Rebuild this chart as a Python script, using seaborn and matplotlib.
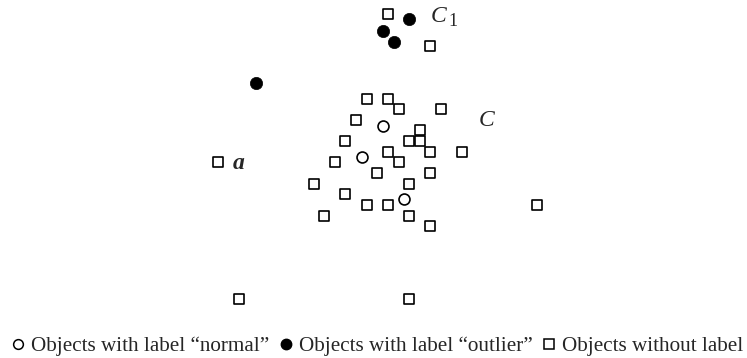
import matplotlib
matplotlib.use("Agg")
import matplotlib.pyplot as plt
from matplotlib.lines import Line2D
import seaborn as sns
import pandas as pd

# Point coordinates (horizontal position, vertical position measured downward)
unlabeled_x = [388.3, 430.0, 366.7, 388.3, 399.0, 440.7, 356.0, 420.0, 409.3, 420.0,
               345.0, 430.0, 462.3, 388.3, 399.0, 335.0, 218.3, 377.3, 430.0, 314.3,
               409.3, 345.0, 366.7, 388.3, 536.7, 324.3, 409.3, 430.0, 239.0, 409.0]
unlabeled_y = [14.0, 46.0, 99.3, 99.3, 109.3, 109.3, 120.0, 130.3, 141.0, 141.0,
               141.0, 151.7, 151.7, 151.7, 162.3, 162.3, 162.3, 172.7, 172.7, 184.0,
               184.0, 194.3, 205.0, 205.0, 205.0, 215.7, 215.7, 226.0, 299.0, 299.0]

normal_x = [382.7, 361.7, 404.0]
normal_y = [125.7, 157.3, 199.3]

outlier_x = [409.3, 382.7, 394.0, 255.7]
outlier_y = [19.3, 30.7, 41.7, 83.3]

legend_labels = ["Objects with label \u201cnormal\u201d",
                 "Objects with label \u201coutlier\u201d",
                 "Objects without label"]

sns.set_theme(style="white")
plt.rcParams["font.family"] = ["Liberation Serif", "DejaVu Serif"]

unl = pd.DataFrame({"x": unlabeled_x, "y": unlabeled_y})
nor = pd.DataFrame({"x": normal_x, "y": normal_y})
out = pd.DataFrame({"x": outlier_x, "y": outlier_y})

fig = plt.figure(figsize=(7.47, 3.58), dpi=100)
ax = fig.add_axes([0, 0, 1, 1])

sns.scatterplot(data=unl, x="x", y="y", marker="s", s=52, facecolor="white",
                edgecolor="black", linewidth=1.2, ax=ax, zorder=2)
sns.scatterplot(data=nor, x="x", y="y", marker="o", s=62, facecolor="white",
                edgecolor="black", linewidth=1.2, ax=ax, zorder=3)
sns.scatterplot(data=out, x="x", y="y", marker="o", s=78, color="black",
                edgecolor="black", linewidth=0.5, ax=ax, zorder=3)

ax.set_xlim(0, 747)
ax.set_ylim(358, 0)
ax.axis("off")

# Cluster and point annotations
ax.text(431, 22.5, "C", fontsize=17, fontstyle="italic", ha="left", va="baseline")
ax.text(448.5, 25.5, "1", fontsize=13, ha="left", va="baseline")
ax.text(479, 126.5, "C", fontsize=17, fontstyle="italic", ha="left", va="baseline")
ax.text(233, 169, "a", fontsize=17, fontweight="bold", fontstyle="italic",
        ha="left", va="baseline")

handles = [
    Line2D([], [], linestyle="none", marker="o", markersize=7,
           markerfacecolor="white", markeredgecolor="black", markeredgewidth=1.1),
    Line2D([], [], linestyle="none", marker="o", markersize=7.5,
           markerfacecolor="black", markeredgecolor="black"),
    Line2D([], [], linestyle="none", marker="s", markersize=7,
           markerfacecolor="white", markeredgecolor="black", markeredgewidth=1.1),
]
ax.legend(handles, legend_labels, ncol=3, frameon=False, loc="center",
          bbox_to_anchor=(0.5 + 4 / 747, 1 - 346.5 / 358), fontsize=15.2,
          handlelength=0.6, handletextpad=0.3, columnspacing=0.5,
          borderaxespad=0, borderpad=0)

fig.savefig("out.png", dpi=100)
